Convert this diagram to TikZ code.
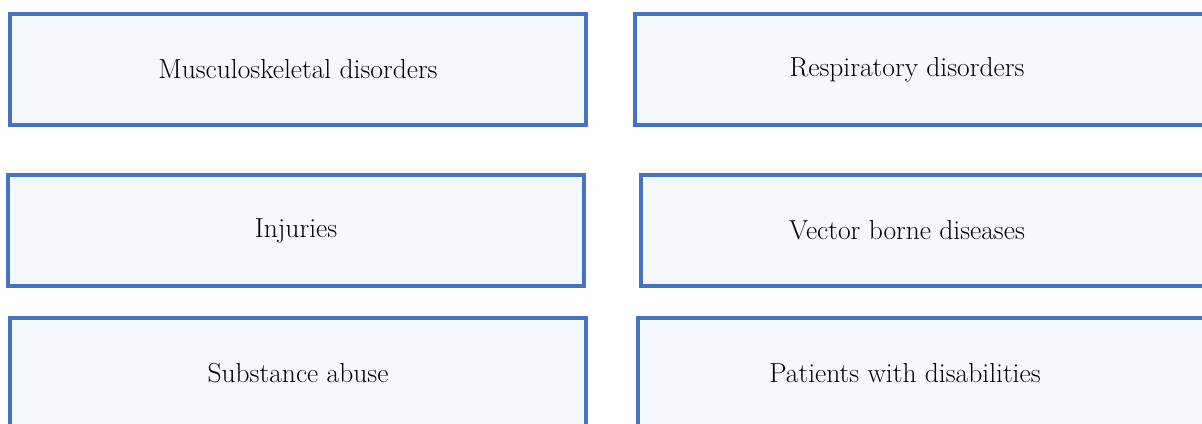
\documentclass[tikz,border=0pt]{standalone}
\usepackage{tikz}
\usetikzlibrary{positioning}
\definecolor{boxblue}{HTML}{4472C4}
\definecolor{boxfill}{HTML}{F5F8FC}

\begin{document}
\begin{tikzpicture}[x=1pt,y=-1pt,
	box/.style={draw=boxblue, line width=3.2pt, fill=boxfill, minimum height=111pt, inner sep=0pt,
		font=\fontsize{27.5}{33}\selectfont},
	txt/.style={font=\fontsize{27.5}{33}\selectfont}]
	\useasboundingbox (0,0) rectangle (1202,423);
	\clip (0,0) rectangle (1202,423);
	\node[box, minimum width=576pt] (b1) at (298,69.5) {Musculoskeletal disorders};
	\node[box, minimum width=595pt] (b2) at (932.5,69.5) {};
	\node[txt] (t2) at (907,69.5) {Respiratory disorders};
	\node[box, minimum width=576pt] (b3) at (296,230.5) {Injuries};
	\node[box, minimum width=589pt] (b4) at (935.5,230.5) {};
	\node[txt] (t4) at (907,230.5) {Vector borne diseases};
	\node[box, minimum width=576pt] (b5) at (298,373.5) {Substance abuse};
	\node[box, minimum width=592pt] (b6) at (934,373.5) {};
	\node[txt] (t6) at (905,373.5) {Patients with disabilities};
\end{tikzpicture}
\end{document}
